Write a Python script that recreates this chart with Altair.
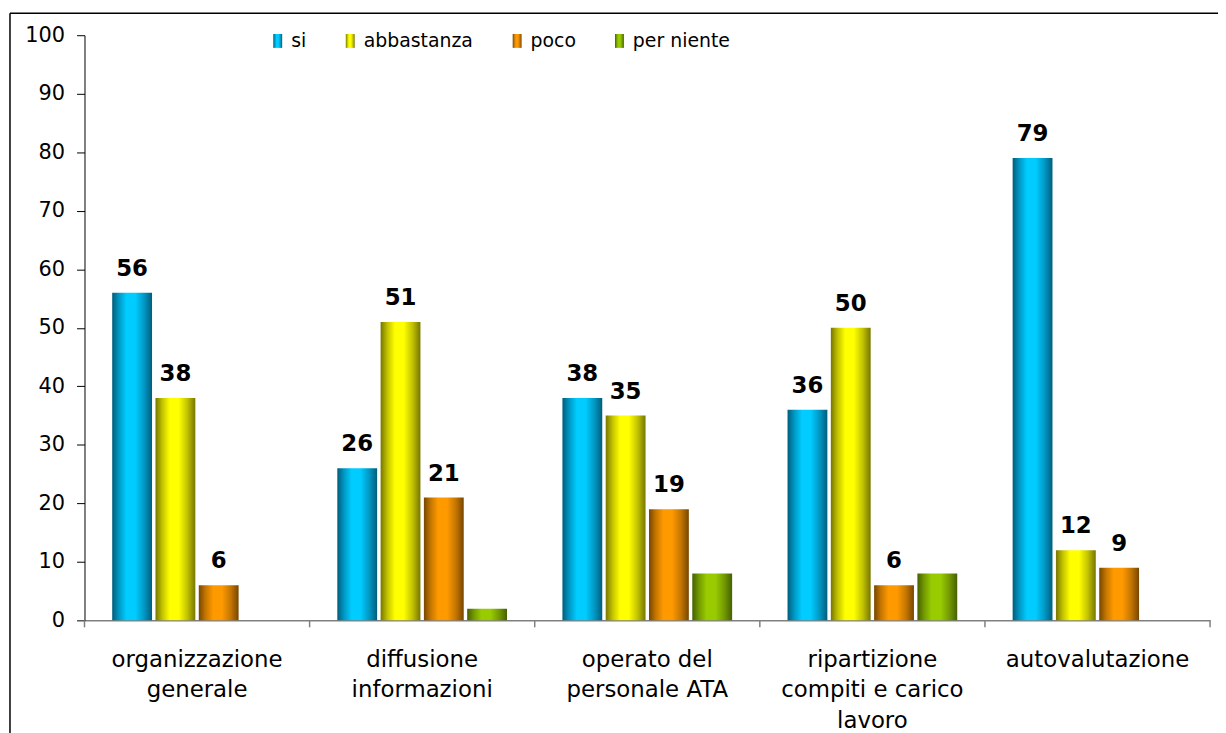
import altair as alt
import pandas as pd

categories = ["organizzazione|generale", "diffusione|informazioni", "operato del|personale ATA",
              "ripartizione|compiti e carico|lavoro", "autovalutazione"]
series = ["si", "abbastanza", "poco", "per niente"]
si = [56, 26, 38, 36, 79]
abbastanza = [38, 51, 35, 50, 12]
poco = [6, 21, 19, 6, 9]
per_niente = [None, 2, 8, 8, None]

# gradient palettes (dark edge, mid, bright centre)
palette = {
    "si": ("#005d7c", "#0098c4", "#00ccff"),
    "abbastanza": ("#767600", "#c2c200", "#ffff00"),
    "poco": ("#774600", "#c47600", "#ff9900"),
    "per niente": ("#456000", "#739a00", "#99cc00"),
}

rows = []
for i, c in enumerate(categories):
    for s, vals in zip(series, [si, abbastanza, poco, per_niente]):
        if vals[i] is not None:
            rows.append({"cat": c, "serie": s, "valore": vals[i]})
df = pd.DataFrame(rows)


def grad(dark, mid, bright):
    stops = [(0, dark), (0.17, mid), (0.36, bright), (0.58, bright), (0.8, mid), (1, dark)]
    st = ",".join("{offset:%s,color:'%s'}" % (o, c) for o, c in stops)
    return {"expr": "{gradient:'linear',x1:0,y1:0,x2:1,y2:0,stops:[%s]}" % st}


W, H = 1133, 589

xenc = alt.X("cat:N", sort=categories, title=None,
             scale=alt.Scale(paddingInner=0, paddingOuter=0),
             axis=alt.Axis(labelExpr="split(datum.label, '|')", labelAngle=0, ticks=False,
                           labelFontSize=23, labelColor="#000000", labelPadding=28,
                           labelLineHeight=31, labelBaseline="top", labelLimit=0,
                           domainColor="#808080", domainWidth=1.5))
xoff = alt.XOffset("serie:N", sort=series,
                   scale=alt.Scale(paddingInner=0.08, paddingOuter=0.64))
yenc = alt.Y("valore:Q", title=None,
             scale=alt.Scale(domain=[0, 100], nice=False, zero=True),
             axis=alt.Axis(values=list(range(0, 101, 10)), grid=False, tickSize=8,
                           tickColor="#000000", domainColor="#000000", labelFontSize=21,
                           labelColor="#000000", labelPadding=12))

bars = alt.Chart(df).mark_bar().encode(
    x=xenc, xOffset=xoff, y=yenc,
    color=alt.Color("serie:N", sort=series,
                    scale=alt.Scale(domain=series, range=[grad(*palette[s]) for s in series]),
                    legend=alt.Legend(title=None, orient="none", direction="horizontal",
                                      legendX=185, legendY=-4, columns=4, columnPadding=34,
                                      symbolType="M-0.64,-1H0.64V1H-0.64Z", symbolSize=196,
                                      symbolStrokeWidth=0, labelFontSize=19, labelColor="#000000",
                                      labelOffset=4, padding=0)),
)

labels = alt.Chart(df).transform_filter(alt.datum.serie != "per niente").mark_text(
    fontSize=23, fontWeight="bold", color="#000000", baseline="alphabetic", dy=-17
).encode(x=alt.X("cat:N", sort=categories), xOffset=alt.XOffset("serie:N", sort=series),
         y="valore:Q", text="valore:Q")

tick_df = pd.DataFrame({"cat": categories})
xticks = alt.Chart(tick_df).mark_rule(color="#808080", strokeWidth=1.5).encode(
    x=alt.X("cat:N", sort=categories, bandPosition=0),
    y=alt.value(H), y2=alt.value(H + 7))
end_tick = alt.Chart(alt.Data(values=[{}])).mark_rule(color="#808080", strokeWidth=1.5).encode(
    x=alt.value(W), y=alt.value(H), y2=alt.value(H + 7))

frame_top = alt.Chart(alt.Data(values=[{}])).mark_rule(color="#000000", strokeWidth=1.5).encode(
    x=alt.value(-75), x2=alt.value(W + 20), y=alt.value(-22))
frame_left = alt.Chart(alt.Data(values=[{}])).mark_rule(color="#000000", strokeWidth=1.5).encode(
    x=alt.value(-75), y=alt.value(-22), y2=alt.value(H + 130))

chart = alt.layer(bars, labels, xticks, end_tick, frame_top, frame_left).properties(
    width=W, height=H,
    autosize=alt.AutoSizeParams(type="none"),
    padding={"left": 77, "top": 25, "right": 8, "bottom": 111},
).configure(font="DejaVu Sans").configure_view(stroke=None)

chart.save("out.html", embed_options={"renderer": "svg", "actions": False})
